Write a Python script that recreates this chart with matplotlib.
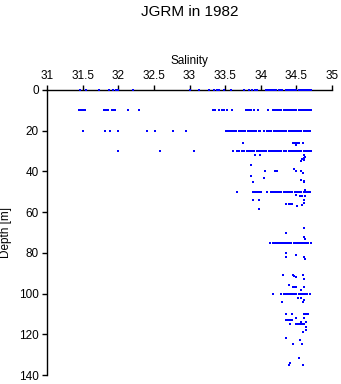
import matplotlib
matplotlib.use("Agg")
import matplotlib.pyplot as plt

plt.rcParams['font.family'] = ['Liberation Sans', 'DejaVu Sans']

# Salinity readings at the standard sampling depths
sal_0m = [31.46, 31.55, 31.73, 31.87, 31.93, 31.97, 32.0, 32.2, 33.0, 33.14, 33.28, 33.35,
          33.38, 33.42, 33.49, 33.58, 33.76, 33.84, 33.88, 33.92, 33.95, 34.07, 34.1, 34.13,
          34.16, 34.19, 34.22, 34.25, 34.27, 34.3, 34.35, 34.38, 34.41, 34.44, 34.47, 34.5,
          34.53, 34.56, 34.59, 34.62, 34.65, 34.68, 34.71]
sal_10m = [31.45, 31.48, 31.51, 31.53, 31.80, 31.83, 31.86, 31.91, 31.94, 31.96, 32.14, 32.29,
           33.33, 33.36, 33.41, 33.45, 33.48, 33.53, 33.60, 33.79, 33.82, 33.85, 33.87, 33.90,
           33.96, 34.10, 34.17, 34.20, 34.23, 34.26, 34.29, 34.32, 34.35, 34.38, 34.41, 34.44,
           34.47, 34.50, 34.53, 34.56, 34.59, 34.62, 34.65, 34.68, 34.71]
sal_20m = [31.51, 31.82, 31.89, 31.99, 32.41, 32.52, 32.77, 32.95, 33.51, 33.54, 33.57, 33.60,
           33.63, 33.65, 33.69, 33.72, 33.75, 33.78, 33.82, 33.85, 33.88, 33.91, 33.94, 33.97,
           33.99, 34.04, 34.09, 34.12, 34.15, 34.18, 34.21, 34.24, 34.27, 34.30, 34.33, 34.36,
           34.39, 34.42, 34.45, 34.48, 34.51, 34.54, 34.57, 34.60, 34.63, 34.66, 34.69]
sal_30m = [32.0, 32.58, 33.07, 33.61, 33.67, 33.70, 33.73, 33.76, 33.80, 33.82, 33.85, 33.88,
           33.91, 33.95, 33.97, 34.0, 34.03, 34.06, 34.08, 34.11, 34.14, 34.17, 34.20, 34.23,
           34.25, 34.28, 34.32, 34.36, 34.40, 34.42, 34.45, 34.48, 34.51, 34.54, 34.57, 34.60,
           34.63, 34.66, 34.69, 34.71]
sal_50m = [33.66, 33.89, 33.92, 33.95, 33.98, 34.01, 34.09, 34.14, 34.17, 34.20, 34.23, 34.26,
           34.29, 34.32, 34.35, 34.38, 34.41, 34.44, 34.48, 34.51, 34.54, 34.57, 34.60, 34.63,
           34.66, 34.69]
sal_75m = [34.13, 34.17, 34.20, 34.23, 34.26, 34.29, 34.31, 34.34, 34.37, 34.40, 34.43, 34.46,
           34.49, 34.52, 34.55, 34.58, 34.61, 34.64, 34.67, 34.71]
sal_100m = [34.17, 34.29, 34.32, 34.35, 34.38, 34.41, 34.44, 34.47, 34.50, 34.53, 34.56, 34.59,
            34.62, 34.65, 34.69]

# Scattered readings between the standard depths
extra_sal = [33.75, 34.45, 34.48, 34.51, 34.54, 34.59, 34.50,
             33.92, 33.99, 34.60, 34.62, 34.61, 34.58, 34.57, 34.60,
             33.86, 34.47, 34.50, 34.06, 34.20, 34.23, 34.56, 34.59, 33.86, 34.04, 34.57, 34.60,
             33.89, 34.61, 34.62, 34.49, 34.55, 34.58, 34.62, 33.89, 33.98, 34.60, 34.60, 34.58,
             34.36, 34.39, 34.42, 34.44, 34.51, 33.98,
             34.61, 34.36, 34.60, 34.62, 34.36, 34.35, 34.50, 34.60, 34.62,
             34.59, 34.31, 34.45, 34.47, 34.49, 34.61, 34.40, 34.45, 34.48, 34.50, 34.61, 34.56,
             34.52, 34.57, 34.60, 34.59, 34.30, 34.35, 34.44, 34.60, 34.63, 34.66, 34.50, 34.60,
             34.35, 34.38, 34.41, 34.44, 34.56, 34.63, 34.41, 34.49, 34.52, 34.55, 34.58, 34.60,
             34.63, 34.63, 34.59, 34.35, 34.55, 34.58, 34.45, 34.53, 34.41, 34.39, 34.59]
extra_depth = [26, 26, 26, 26, 26, 26, 27,
               32, 32, 32, 33, 33.5, 34, 35, 34.5,
               37, 39, 40, 40, 40, 40, 40, 41, 42, 43, 44, 44.5,
               45, 45, 49, 51.5, 52, 52, 52, 54, 54, 54, 55.3, 56.5,
               56, 56, 56, 56, 57, 58.3,
               68, 70.4, 72.2, 73.3, 80.2, 82.2, 81, 82.2, 83.2,
               91, 91, 91, 91.5, 92, 93, 96, 97, 97, 97, 97, 98,
               102.3, 102, 103, 104, 104.3, 110.2, 110.2, 110.2, 110.2, 110.2, 112.1, 112.1,
               113.1, 113.1, 113.1, 113.1, 114.1, 114.1, 115.1, 115.1, 115.1, 115.1, 115.1, 115.1,
               116.2, 118, 119, 122, 123, 124.8, 124.8, 131.5, 134.2, 135.2, 135.2]

levels = [(sal_0m, 0), (sal_10m, 10), (sal_20m, 20), (sal_30m, 30),
          (sal_50m, 50), (sal_75m, 75), (sal_100m, 100)]

xticks = [31, 31.5, 32, 32.5, 33, 33.5, 34, 34.5, 35]
xticklabels = ['31', '31.5', '32', '32.5', '33', '33.5', '34', '34.5', '35']
yticks = [0, 20, 40, 60, 80, 100, 120, 140]

fig = plt.figure(figsize=(3.41, 3.84), dpi=100)
ax = fig.add_axes([47 / 341, 1 - 375 / 384, 285 / 341, 285 / 384])

for sal, dep in levels:
    ax.plot(sal, [dep] * len(sal), 's', color='#0000ff', ms=1.9, mew=0, clip_on=False, zorder=4)
ax.plot(extra_sal, extra_depth, 's', color='#0000ff', ms=1.9, mew=0, clip_on=False, zorder=4)

ax.set_xlim(31, 35)
ax.set_ylim(140, 0)
ax.xaxis.tick_top()
ax.xaxis.set_label_position('top')
ax.set_xticks(xticks)
ax.set_xticklabels(xticklabels)
ax.set_yticks(yticks)
ax.tick_params(axis='both', labelsize=8.5, length=3.5, width=1, pad=2.5, colors='black')
ax.spines['right'].set_visible(False)
ax.spines['bottom'].set_visible(False)
ax.spines['top'].set_linewidth(1)
ax.spines['left'].set_linewidth(1)

ax.set_xlabel('Salinity', fontsize=8.5, labelpad=4)
ax.set_ylabel('Depth [m]', fontsize=8.5, labelpad=5)
fig.text(189.5 / 341, 1 - 12 / 384, 'JGRM in 1982', ha='center', va='center', fontsize=11)

plt.savefig('out.png', dpi=100)
